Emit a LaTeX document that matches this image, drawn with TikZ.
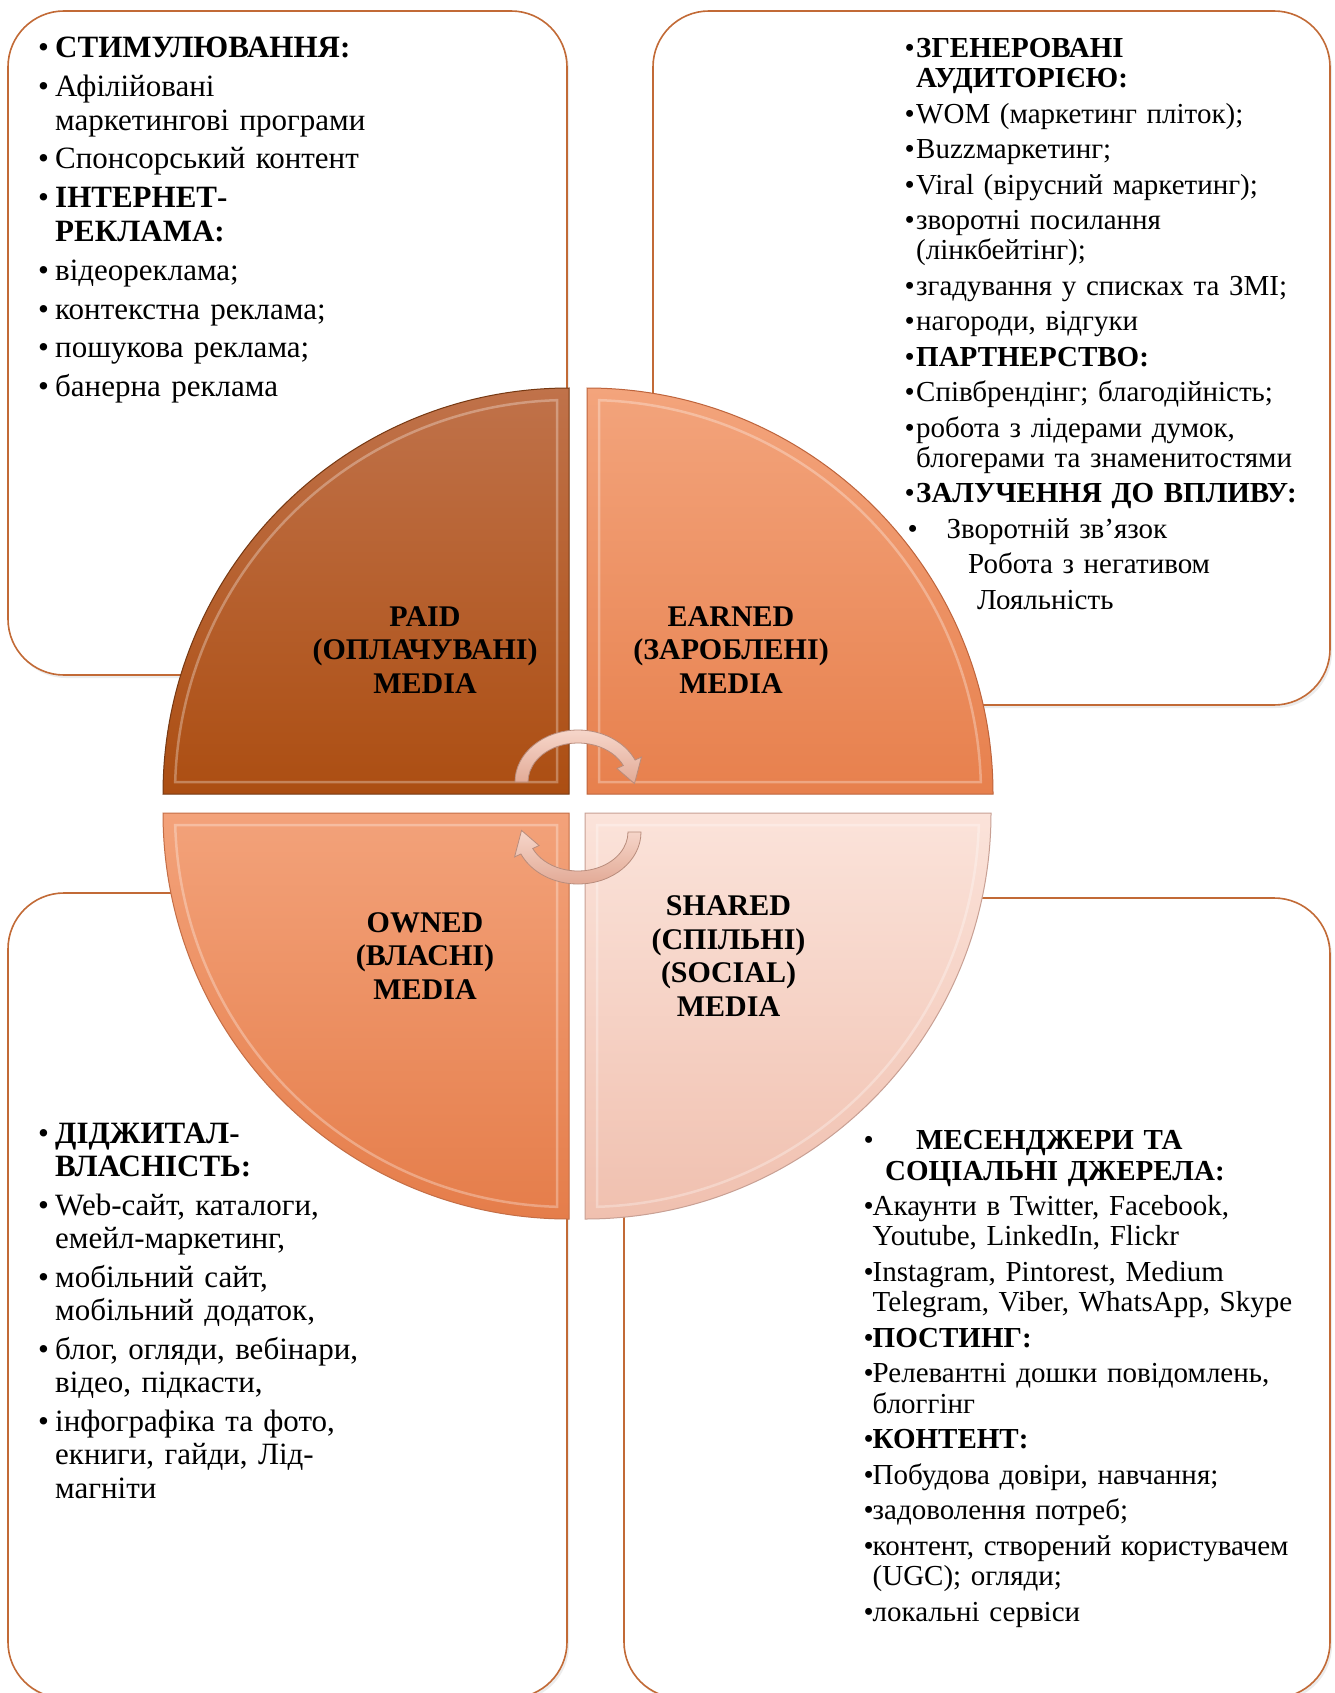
\documentclass[tikz,border=0pt]{standalone}
\usepackage{fontspec}
\setmainfont{Liberation Serif}
\usetikzlibrary{positioning, shadows}
\usepackage{color}

\definecolor{cardline}{RGB}{194,106,54}
\definecolor{paidtop}{RGB}{192,114,74}
\definecolor{paidmid}{RGB}{184,92,32}
\definecolor{paidbot}{RGB}{172,78,18}
\definecolor{paidedge}{RGB}{118,56,18}
\definecolor{earntop}{RGB}{243,164,124}
\definecolor{earnmid}{RGB}{238,145,96}
\definecolor{earnbot}{RGB}{231,128,77}
\definecolor{earnedge}{RGB}{190,100,60}
\definecolor{owntop}{RGB}{243,162,122}
\definecolor{ownmid}{RGB}{238,145,96}
\definecolor{ownbot}{RGB}{229,125,74}
\definecolor{ownedge}{RGB}{196,110,70}
\definecolor{sharetop}{RGB}{251,227,218}
\definecolor{sharemid}{RGB}{246,210,196}
\definecolor{sharebot}{RGB}{240,192,175}
\definecolor{shareedge}{RGB}{200,160,148}
\definecolor{swirltop}{RGB}{246,214,202}
\definecolor{swirlbot}{RGB}{226,170,150}
\definecolor{swirledge}{RGB}{184,140,124}

\newlength{\bind}
\newcommand{\itm}[1]{\par\hangindent=\bind\hangafter=1\noindent\makebox[\bind][l]{\textbullet}#1}

\begin{document}
\begin{tikzpicture}
  [x=1pt, y=-1pt,
   card/.style={draw=cardline, line width=1.6pt, fill=white, rounded corners=56pt,
     drop shadow={opacity=0.15, shadow xshift=2pt, shadow yshift=-3pt}},
   sector/.style={font=\fontsize{30}{33.4}\selectfont\bfseries, align=center, inner sep=0pt},
   bevel/.style={draw=white, line width=2.5pt, opacity=0.3},
   boxtext/.style={anchor=north west, inner sep=0pt, text width=#1, align=left},
   swirl/.style={draw=swirledge, line width=0.8pt, top color=swirltop, bottom color=swirlbot}]
  \fill[white] (0,0) rectangle (1334,1693);
  \useasboundingbox (0,0) rectangle (1334,1693);

  % the four cards behind the circle
  \draw[card] (8,11) rectangle (567,675);
  \draw[card] (653,11) rectangle (1330,705);
  \draw[card] (8,893) rectangle (567,1698);
  \draw[card] (624,898) rectangle (1330,1698);

  % quarters of the circle
  \foreach \cx/\cy/\a/\tc/\mc/\bc/\ec in {569/794/180/paidtop/paidmid/paidbot/paidedge,
      587/794/270/earntop/earnmid/earnbot/earnedge, 569/813/90/owntop/ownmid/ownbot/ownedge,
      585/813/0/sharetop/sharemid/sharebot/shareedge}{
    \path[draw=\ec, line width=1pt, top color=\tc, middle color=\mc, bottom color=\bc]
      (\cx,\cy) -- ++(\a:406) arc[start angle=\a, delta angle=90, radius=406] -- cycle;
    \path[bevel] (\cx,\cy) ++({\a+45}:16.97) -- ++(\a:381.82)
      arc[start angle=\a+1.745, delta angle=86.51, radius=394] -- cycle;
  }

  % circular arrows
  \coordinate (topc) at (578,782);
  \coordinate (botc) at (578,832);
  \path[swirl] ([shift={(180:63 and 52)}]topc)
      arc[start angle=180, end angle=335, x radius=63, y radius=52]
    -- ([shift={(335:70 and 59)}]topc) -- ([shift={(2:56.5 and 45.5)}]topc)
    -- ([shift={(335:43 and 32)}]topc) -- ([shift={(335:50 and 39)}]topc)
      arc[start angle=335, end angle=180, x radius=50, y radius=39] -- cycle;
  \path[swirl] ([shift={(0:63 and 52)}]botc)
      arc[start angle=0, end angle=155, x radius=63, y radius=52]
    -- ([shift={(155:70 and 59)}]botc) -- ([shift={(182:56.5 and 45.5)}]botc)
    -- ([shift={(155:43 and 32)}]botc) -- ([shift={(155:50 and 39)}]botc)
      arc[start angle=155, end angle=0, x radius=50, y radius=39] -- cycle;

  \node[sector] (paid) at (425,650) {PAID\\(ОПЛАЧУВАНІ)\\MEDIA};
  \node[sector] (earned) at (731,650) {EARNED\\(ЗАРОБЛЕНІ)\\MEDIA};
  \node[sector] (owned) at (425,956) {OWNED\\(ВЛАСНІ)\\MEDIA};
  \node[sector] (shared) at (728.5,956) {SHARED\\(СПІЛЬНІ)\\(SOCIAL)\\MEDIA};

  % lists in the cards
  \node[boxtext=500pt, font=\fontsize{31}{33.8}\selectfont] (paidlist) at (38,18.5) {%
    \setlength{\bind}{17pt}\setlength{\parskip}{5pt}%
    \itm{\textbf{СТИМУЛЮВАННЯ:}}
    \itm{Афілійовані\newline маркетингові програми}
    \itm{Спонсорський контент}
    \itm{\textbf{ІНТЕРНЕТ-\newline РЕКЛАМА:}}
    \itm{відеореклама;}
    \itm{контекстна реклама;}
    \itm{пошукова реклама;}
    \itm{банерна реклама}\par};

  \node[boxtext=420pt, font=\fontsize{29}{30.1}\selectfont] (earnlist) at (904.5,22) {%
    \setlength{\bind}{11.5pt}\setlength{\parskip}{5.4pt}%
    \itm{\textbf{ЗГЕНЕРОВАНІ\newline АУДИТОРІЄЮ:}}
    \itm{WOM (маркетинг пліток);}
    \itm{Buzzмаркетинг;}
    \itm{Viral (вірусний маркетинг);}
    \itm{зворотні посилання\newline (лінкбейтінг);}
    \itm{згадування у списках та ЗМІ;}
    \itm{нагороди, відгуки}
    \itm{\textbf{ПАРТНЕРСТВО:}}
    \itm{Співбрендінг; благодійність;}
    \itm{робота з лідерами думок,\newline блогерами та знаменитостями}
    \itm{\textbf{ЗАЛУЧЕННЯ ДО ВПЛИВУ:}}
    \par\noindent\makebox[42pt][l]{\hspace*{3pt}\textbullet}Зворотній зв’язок
    \par\noindent\hspace*{63.5pt}Робота з негативом
    \par\noindent\hspace*{72.5pt}Лояльність\par};

  \node[boxtext=500pt, font=\fontsize{31}{33.5}\selectfont] (ownlist) at (38,1104.5) {%
    \setlength{\bind}{17pt}\setlength{\parskip}{5pt}%
    \itm{\textbf{ДІДЖИТАЛ-\newline ВЛАСНІСТЬ:}}
    \itm{Web-сайт, каталоги,\newline емейл-маркетинг,}
    \itm{мобільний сайт,\newline мобільний додаток,}
    \itm{блог, огляди, вебінари,\newline відео, підкасти,}
    \itm{інфографіка та фото,\newline екниги, гайди, Лід-\newline магніти}\par};

  \node[boxtext=460pt, font=\fontsize{29}{30.2}\selectfont] (sharelist) at (863.5,1114) {%
    \setlength{\bind}{9pt}\setlength{\parskip}{5.4pt}%
    \par\noindent\makebox[52.5pt][l]{\textbullet}\textbf{МЕСЕНДЖЕРИ ТА}\newline
      \hspace*{21.5pt}\textbf{СОЦІАЛЬНІ ДЖЕРЕЛА:}
    \itm{Акаунти в Twitter, Facebook,\newline Youtube, LinkedIn, Flickr}
    \itm{Instagram, Pintorest, Medium\newline Telegram, Viber, WhatsApp, Skype}
    \itm{\textbf{ПОСТИНГ:}}
    \itm{Релевантні дошки повідомлень,\newline блоггінг}
    \itm{\textbf{КОНТЕНТ:}}
    \itm{Побудова довіри, навчання;}
    \itm{задоволення потреб;}
    \itm{контент, створений користувачем\newline (UGC); огляди;}
    \itm{локальні сервіси}\par};
\end{tikzpicture}
\end{document}
